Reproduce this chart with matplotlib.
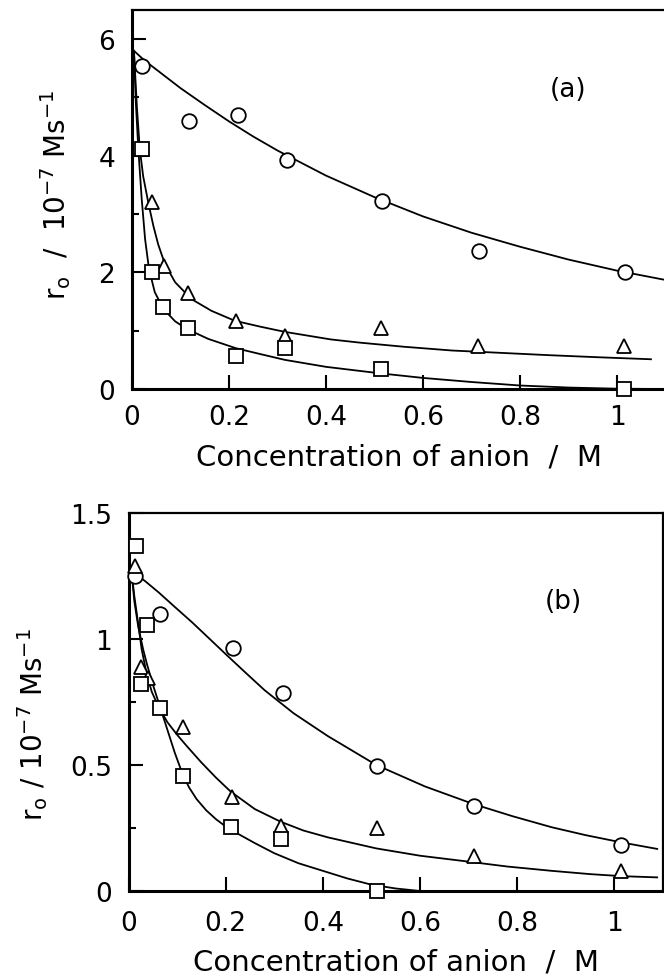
import matplotlib
matplotlib.use("Agg")
import matplotlib.pyplot as plt
from matplotlib.ticker import MultipleLocator, FuncFormatter

# ---------------- Panel (a) data ----------------
a_circ_x = [0.02, 0.118, 0.219, 0.32, 0.516, 0.715, 1.016]
a_circ_y = [5.54, 4.60, 4.70, 3.93, 3.22, 2.37, 2.01]
a_tri_x = [0.02, 0.042, 0.066, 0.115, 0.214, 0.315, 0.513, 0.713, 1.014]
a_tri_y = [4.12, 3.21, 2.11, 1.65, 1.17, 0.91, 1.05, 0.74, 0.74]
a_sq_x = [0.02, 0.041, 0.064, 0.115, 0.214, 0.315, 0.513, 1.014]
a_sq_y = [4.12, 2.01, 1.41, 1.05, 0.57, 0.70, 0.34, 0.0]

# fitted curves
a_fit_circ_x = [0.004, 0.025, 0.05, 0.075, 0.1, 0.15, 0.2, 0.25, 0.3, 0.4, 0.5, 0.6, 0.7, 0.8, 0.9, 1.0, 1.1]
a_fit_circ_y = [5.8, 5.64, 5.48, 5.32, 5.16, 4.87, 4.59, 4.33, 4.09, 3.66, 3.29, 2.96, 2.68, 2.44, 2.22, 2.03, 1.87]
a_fit_tri_x = [0.004, 0.01, 0.016, 0.023, 0.034, 0.044, 0.054, 0.068, 0.089, 0.123, 0.164,
               0.212, 0.264, 0.315, 0.41, 0.47, 0.56, 0.66, 0.76, 0.86, 0.96, 1.07]
a_fit_tri_y = [5.8, 4.85, 4.12, 3.65, 3.18, 2.80, 2.48, 2.14, 1.83, 1.54, 1.34,
               1.17, 1.07, 0.98, 0.85, 0.795, 0.725, 0.66, 0.62, 0.58, 0.545, 0.51]
a_fit_sq_x = [0.004, 0.008, 0.013, 0.02, 0.027, 0.035, 0.047, 0.065, 0.089, 0.113, 0.157,
              0.214, 0.264, 0.315, 0.40, 0.51, 0.60, 0.70, 0.80, 0.90, 1.0, 1.1]
a_fit_sq_y = [5.8, 4.9, 4.12, 3.26, 2.57, 2.06, 1.66, 1.37, 1.16, 1.03, 0.86,
              0.70, 0.60, 0.50, 0.38, 0.27, 0.19, 0.12, 0.06, 0.025, 0.005, 0.0]

# ---------------- Panel (b) data ----------------
b_circ_x = [0.014, 0.065, 0.215, 0.317, 0.511, 0.711, 1.014]
b_circ_y = [1.25, 1.10, 0.964, 0.785, 0.495, 0.339, 0.182]
b_tri_x = [0.013, 0.025, 0.041, 0.113, 0.213, 0.314, 0.511, 0.711, 1.014]
b_tri_y = [1.29, 0.887, 0.845, 0.652, 0.374, 0.259, 0.249, 0.140, 0.081]
b_sq_x = [0.015, 0.039, 0.025, 0.064, 0.112, 0.211, 0.314, 0.511]
b_sq_y = [1.37, 1.057, 0.821, 0.726, 0.458, 0.253, 0.206, 0.0]

b_fit_circ_x = [0.006, 0.034, 0.062, 0.096, 0.131, 0.165, 0.2, 0.24, 0.28, 0.34, 0.41,
                0.51, 0.61, 0.71, 0.79, 0.871, 0.94, 1.014, 1.088]
b_fit_circ_y = [1.27, 1.23, 1.185, 1.126, 1.066, 1.004, 0.94, 0.868, 0.797, 0.705, 0.615,
                0.50, 0.415, 0.345, 0.297, 0.253, 0.222, 0.193, 0.167]
b_fit_tri_x = [0.006, 0.012, 0.02, 0.027, 0.038, 0.048, 0.062, 0.08, 0.10, 0.12, 0.15, 0.18,
               0.21, 0.26, 0.313, 0.36, 0.41, 0.51, 0.6, 0.685, 0.78, 0.871, 0.95, 1.014, 1.088]
b_fit_tri_y = [1.27, 1.17, 1.06, 0.96, 0.855, 0.79, 0.73, 0.67, 0.62, 0.575, 0.51, 0.45,
               0.395, 0.325, 0.275, 0.24, 0.213, 0.169, 0.14, 0.12, 0.097, 0.08, 0.067, 0.059, 0.054]
b_fit_sq_x = [0.006, 0.012, 0.02, 0.03, 0.038, 0.05, 0.065, 0.08, 0.095, 0.112, 0.125, 0.14,
              0.16, 0.18, 0.2, 0.23, 0.26, 0.3, 0.35, 0.4, 0.45, 0.5, 0.55, 0.6, 0.7]
b_fit_sq_y = [1.27, 1.15, 1.05, 0.96, 0.90, 0.82, 0.73, 0.64, 0.55, 0.46, 0.41, 0.365,
              0.32, 0.285, 0.256, 0.222, 0.19, 0.15, 0.11, 0.08, 0.05, 0.025, 0.01, 0.0, 0.0]

x_ticks = [0, 0.2, 0.4, 0.6, 0.8, 1.0]
x_label = "Concentration of anion  /  M"
a_ylabel = r"r$_{\rm o}$  /  10$^{-7}$ Ms$^{-1}$"
b_ylabel = r"r$_{\rm o}$ / 10$^{-7}$ Ms$^{-1}$"

plt.rcParams['font.family'] = ['DejaVu Sans']
plt.rcParams['mathtext.fontset'] = 'dejavusans'

W, H = 664, 979
fig = plt.figure(figsize=(W / 100, H / 100), dpi=100)

ax1 = fig.add_axes([132 / W, 1 - 390 / H, 533.5 / W, 379 / H])
ax2 = fig.add_axes([128.5 / W, 1 - 892 / H, 534.5 / W, 378 / H])

fmt = FuncFormatter(lambda v, p: "%g" % round(v, 3))

mk = dict(markerfacecolor='white', markeredgecolor='black', markeredgewidth=1.3,
          linestyle='none', clip_on=False, zorder=5, markersize=10.5)
ln = dict(color='black', lw=1.3, zorder=3, solid_joinstyle='round')


def style(ax, ymax, ymajor, yminor, xpad, ypad):
    ax.set_xlim(0, 1.1)
    ax.set_ylim(0, ymax)
    ax.set_xticks(x_ticks)
    ax.xaxis.set_major_formatter(fmt)
    ax.yaxis.set_major_locator(MultipleLocator(ymajor))
    ax.yaxis.set_minor_locator(MultipleLocator(yminor))
    ax.yaxis.set_major_formatter(fmt)
    ax.tick_params(axis='both', which='both', direction='in', labelsize=19)
    ax.tick_params(axis='both', which='major', length=10, width=1.5)
    ax.tick_params(axis='y', which='minor', length=5, width=1.5)
    ax.tick_params(axis='x', pad=xpad)
    ax.tick_params(axis='y', pad=ypad)
    for s in ['left', 'bottom']:
        ax.spines[s].set_linewidth(2.2)
    for s in ['top', 'right']:
        ax.spines[s].set_linewidth(1.6)


# Panel (a)
ax1.plot(a_fit_circ_x, a_fit_circ_y, **ln)
ax1.plot(a_fit_tri_x, a_fit_tri_y, **ln)
ax1.plot(a_fit_sq_x, a_fit_sq_y, **ln)
ax1.plot(a_circ_x, a_circ_y, marker='o', **mk)
ax1.plot(a_tri_x, a_tri_y, marker='^', **mk)
ax1.plot(a_sq_x, a_sq_y, marker='s', **mk)
style(ax1, 6.5, 2, 1, 11, 12)
ax1.text(0.90, 5.14, "(a)", fontsize=19, ha='center', va='center')
ax1.set_xlabel(x_label, fontsize=21)
ax1.xaxis.set_label_coords(0.5, (390 - 458) / 379)
ax1.xaxis.label.set_va('center')
ax1.set_ylabel(a_ylabel, fontsize=20)
ax1.yaxis.set_label_coords((56 - 132) / 533.5, (390 - 195) / 379)
ax1.yaxis.label.set_va('center')

# Panel (b)
ax2.plot(b_fit_circ_x, b_fit_circ_y, **ln)
ax2.plot(b_fit_tri_x, b_fit_tri_y, **ln)
ax2.plot(b_fit_sq_x, b_fit_sq_y, **ln)
ax2.plot(b_circ_x, b_circ_y, marker='o', **mk)
ax2.plot(b_tri_x, b_tri_y, marker='^', **mk)
ax2.plot(b_sq_x, b_sq_y, marker='s', **mk)
style(ax2, 1.5, 0.5, 0.25, 14, 12)
ax2.text(0.894, 1.15, "(b)", fontsize=19, ha='center', va='center')
ax2.set_xlabel(x_label, fontsize=21)
ax2.xaxis.set_label_coords(0.5, (892 - 963) / 378)
ax2.xaxis.label.set_va('center')
ax2.set_ylabel(b_ylabel, fontsize=20)
ax2.yaxis.set_label_coords((33 - 128.5) / 534.5, (892 - 725) / 378)
ax2.yaxis.label.set_va('center')

fig.savefig("out.png", dpi=100)
